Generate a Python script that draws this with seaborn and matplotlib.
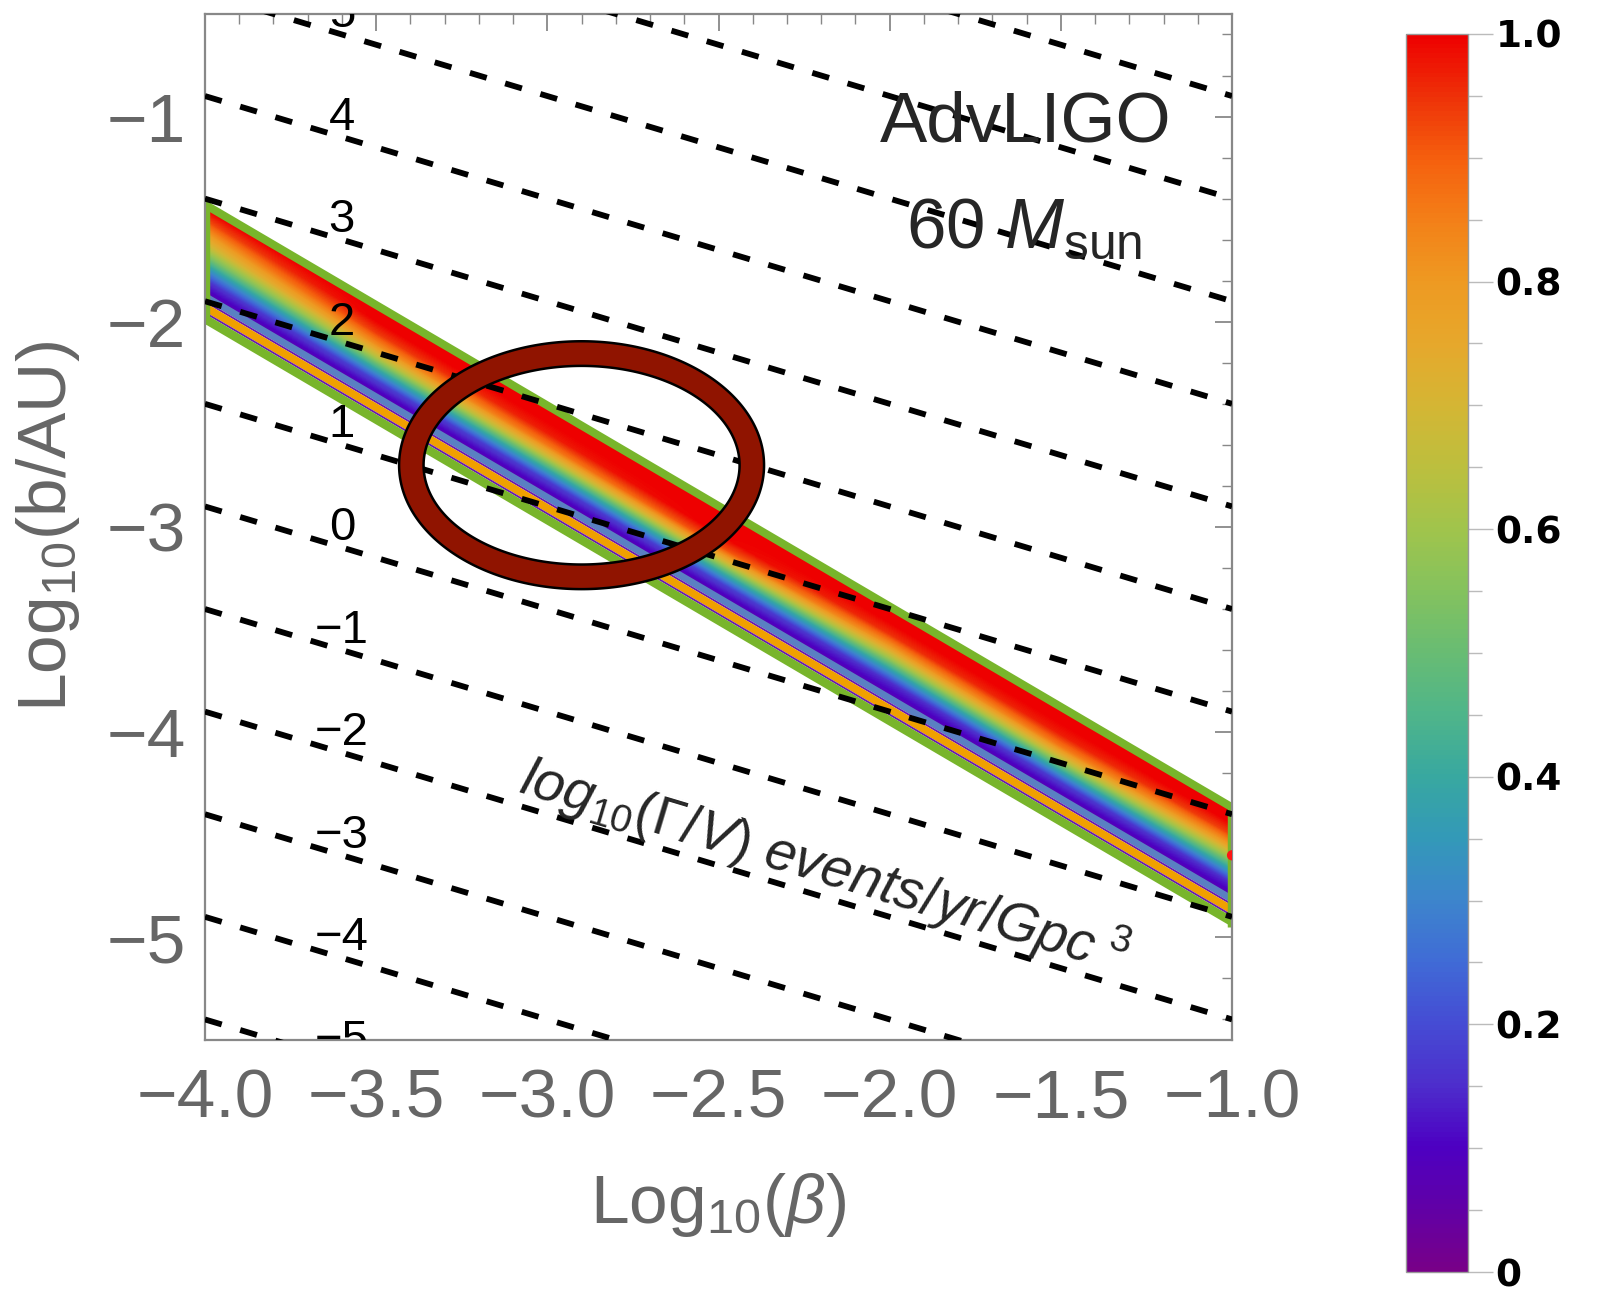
import numpy as np
import pandas as pd
import matplotlib
matplotlib.use("Agg")
import matplotlib.pyplot as plt
import seaborn as sns
import matplotlib.transforms as mtransforms
from matplotlib.colors import LinearSegmentedColormap, Normalize
from matplotlib.cm import ScalarMappable
from matplotlib.path import Path
from matplotlib.patches import PathPatch
from matplotlib.ticker import MultipleLocator

# ------------------------------------------------------------------ data
x_limits = [-4.0, -1.0]
y_limits = [-5.5, -0.5]

# iso-rate lines log10(Gamma/V): y value at left (x=-4) and right (x=-1) edge
rate_levels = [7, 6, 5, 4, 3, 2, 1, 0, -1, -2, -3, -4, -5]
rate_y_left = [0.6, 0.1, -0.4, -0.9, -1.4, -1.9, -2.4, -2.9, -3.4, -3.9, -4.4, -4.9, -5.4]
rate_y_right = [-0.9, -1.4, -1.9, -2.4, -2.9, -3.4, -3.9, -4.4, -4.9, -5.4, -5.9, -6.4, -6.9]
label_x = -3.6

# allowed band (upper edge at its two ends, constant vertical width)
band_x = [-4.0, -1.0]
band_top = [-1.405, -4.343]
band_width = 0.605

# density values inside the band: columns along x, rows across the band (fraction s)
grad_x = [-4.0, -3.5, -3.0, -2.5, -2.0, -1.5, -1.0]
grad_s = [0.075, 0.171, 0.268, 0.364, 0.461, 0.557, 0.654, 0.75]
grad_values = [
    [1.00, 1.00, 1.00, 1.00, 1.00, 1.00, 1.00],
    [0.92, 1.00, 1.00, 1.00, 1.00, 1.00, 1.00],
    [0.80, 0.94, 0.97, 1.00, 0.95, 0.97, 0.93],
    [0.68, 0.82, 0.86, 0.92, 0.80, 0.86, 0.78],
    [0.52, 0.64, 0.66, 0.70, 0.60, 0.66, 0.58],
    [0.33, 0.40, 0.40, 0.42, 0.36, 0.40, 0.36],
    [0.16, 0.18, 0.17, 0.18, 0.15, 0.17, 0.15],
    [0.08, 0.08, 0.08, 0.08, 0.08, 0.08, 0.08],
]

# boundary stripes of the band (fraction across band) and their colours
stripe_s0 = [0.0, 0.745, 0.81, 0.828, 0.90, 0.918]
stripe_s1 = [0.075, 0.81, 0.828, 0.90, 0.918, 1.0]
stripe_colors = ["#78B52B", "#5A80C2", "#6A1CB0", "#F0A000", "#6A1CB0", "#78B52B"]

# marked point and highlighted region
point_x = [-1.0]
point_y = [-4.6]
ring_center = (-2.90, -2.699)
ring_outer = (0.533, 0.604)
ring_inner = (0.4615, 0.484)

# colour scale
cmap_pos = [0.0, 0.05, 0.1, 0.15, 0.2, 0.25, 0.3, 0.35, 0.4, 0.45, 0.5,
            0.55, 0.6, 0.65, 0.7, 0.75, 0.8, 0.85, 0.9, 0.95, 1.0]
cmap_hex = ["#780088", "#6100A6", "#4D00C2", "#4D2ECC", "#454CD4", "#406BD6",
            "#3D85CC", "#3399B8", "#38A8A0", "#4FB58A", "#68BC73", "#84C25E",
            "#A0C44C", "#BCBF3E", "#D4B634", "#E6A82C", "#EE9A22", "#F38018",
            "#F5600E", "#EE3208", "#EE0000"]
cbar_ticks = [0.0, 0.2, 0.4, 0.6, 0.8, 1.0]
cbar_ticklabels = ["0", "0.2", "0.4", "0.6", "0.8", "1.0"]

# ------------------------------------------------------------------ style
sns.set_style("white")
plt.rcParams["font.family"] = ["Liberation Sans", "DejaVu Sans"]
plt.rcParams["mathtext.fontset"] = "custom"
plt.rcParams["mathtext.rm"] = "Liberation Sans"
plt.rcParams["mathtext.it"] = "Liberation Sans:italic"
plt.rcParams["mathtext.bf"] = "Liberation Sans:bold"
plt.rcParams["mathtext.sf"] = "Liberation Sans"
plt.rcParams["axes.unicode_minus"] = True

GRAY_TXT = "#666666"
GRAY_AX = "#888888"

cmap = LinearSegmentedColormap.from_list("mma_rainbow", list(zip(cmap_pos, cmap_hex)))
norm = Normalize(0, 1)

fig = plt.figure(figsize=(16.19, 12.93), dpi=100)
ax = fig.add_axes([0.1266, 0.1957, 0.6344, 0.7935])

# ---- density band (image mapped onto the slanted band by an affine map)
slope = (band_top[1] - band_top[0]) / (band_x[1] - band_x[0])
aff = mtransforms.Affine2D(np.array([
    [1.0, 0.0, 0.0],
    [slope, -band_width, band_top[0] - slope * band_x[0]],
    [0.0, 0.0, 1.0]]))
dx = grad_x[1] - grad_x[0]
ds = grad_s[1] - grad_s[0]
ax.imshow(np.array(grad_values), cmap=cmap, norm=norm, origin="lower",
          extent=(grad_x[0] - dx / 2, grad_x[-1] + dx / 2,
                  grad_s[0] - ds / 2, grad_s[-1] + ds / 2),
          interpolation="bilinear", interpolation_stage="data",
          aspect="auto", transform=aff + ax.transData, zorder=1)

bx = np.array(band_x)
bt = np.array(band_top)
for s0, s1, c in zip(stripe_s0, stripe_s1, stripe_colors):
    ax.fill_between(bx, bt - band_width * s0, bt - band_width * s1,
                    color=c, lw=0, zorder=2)
for xe, ye in zip(band_x, band_top):
    ax.plot([xe, xe], [ye, ye - band_width], color=stripe_colors[0],
            lw=6.8, solid_capstyle="butt", zorder=2)

# ---- dashed iso-rate lines
lines_df = pd.DataFrame({
    "x": np.repeat([x_limits], len(rate_levels), axis=0).ravel(),
    "y": np.column_stack([rate_y_left, rate_y_right]).ravel(),
    "level": np.repeat(rate_levels, 2),
})
sns.lineplot(data=lines_df, x="x", y="y", units="level", estimator=None,
             color="black", lw=4.2, linestyle=(0, (3.0, 3.3)),
             legend=False, ax=ax, zorder=3)

for lev, yl, yr in zip(rate_levels, rate_y_left, rate_y_right):
    yy = yl + (yr - yl) * (label_x - x_limits[0]) / (x_limits[1] - x_limits[0])
    ax.text(label_x, yy + 0.095, str(lev).replace("-", "\u2212"), fontsize=34,
            ha="center", va="center", color="black", clip_on=True, zorder=4)

# ---- highlighted ring
th = np.linspace(0, 2 * np.pi, 361)
outer = np.column_stack([ring_center[0] + ring_outer[0] * np.cos(th),
                         ring_center[1] + ring_outer[1] * np.sin(th)])
inner = np.column_stack([ring_center[0] + ring_inner[0] * np.cos(th[::-1]),
                         ring_center[1] + ring_inner[1] * np.sin(th[::-1])])
codes = np.full(len(th), Path.LINETO)
codes[0] = Path.MOVETO
codes[-1] = Path.CLOSEPOLY
ring = Path(np.vstack([outer, inner]), np.concatenate([codes, codes]))
ax.add_patch(PathPatch(ring, facecolor="#901400", edgecolor="black", lw=1.8, zorder=5))

# ---- marked point
ax.scatter(point_x, point_y, s=55, color="#FF1414", edgecolor="none", zorder=5)

# ---- annotations
ax.text(-1.604, -1.121, "AdvLIGO", fontsize=51, ha="center", va="baseline", zorder=6)
ax.text(-1.607, -1.640, r"60 $M_{\mathrm{sun}}$", fontsize=51, ha="center",
        va="baseline", zorder=6)
ax.text(-2.19, -4.655, r"$log_{10}(\mathit{\Gamma}/V)\ events/yr/Gpc^{\ 3}$",
        fontsize=40, rotation=-16.7, rotation_mode="anchor",
        ha="center", va="center", zorder=6)

# ---- axes styling
ax.set_xlim(*x_limits)
ax.set_ylim(*y_limits)
ax.xaxis.set_major_locator(MultipleLocator(0.5))
ax.xaxis.set_minor_locator(MultipleLocator(0.1))
ax.yaxis.set_major_locator(MultipleLocator(1.0))
ax.yaxis.set_minor_locator(MultipleLocator(0.2))
ax.tick_params(which="both", direction="in", top=True, right=True,
               color=GRAY_AX, labelcolor=GRAY_TXT)
ax.tick_params(which="major", length=12, width=1.3, labelsize=50)
ax.tick_params(axis="x", which="major", pad=20)
ax.tick_params(axis="y", which="major", pad=14)
ax.tick_params(which="minor", length=7, width=1.0)
for sp in ax.spines.values():
    sp.set_color(GRAY_AX)
    sp.set_linewidth(1.6)
ax.set_xlabel(r"Log$_{10}$($\beta$)", fontsize=50, color=GRAY_TXT, va="top")
ax.set_ylabel(r"Log$_{10}$(b/AU)", fontsize=50, color=GRAY_TXT)
ax.xaxis.set_label_coords(0.5, -0.128)
ax.yaxis.set_label_coords(-0.12, 0.5)

# ---- colour bar
cax = fig.add_axes([0.8684, 0.01624, 0.0383, 0.9575])
cbar = fig.colorbar(ScalarMappable(norm=norm, cmap=cmap), cax=cax)
cbar.set_ticks(cbar_ticks, labels=cbar_ticklabels, fontweight="bold",
               fontfamily="DejaVu Sans")
cbar.ax.yaxis.set_minor_locator(MultipleLocator(0.05))
cbar.ax.tick_params(which="both", direction="out", color="#BBBBBB", width=1.0)
cbar.ax.tick_params(which="major", length=18, pad=2, labelsize=27, labelcolor="black")
cbar.ax.tick_params(which="minor", length=10)
cbar.outline.set_edgecolor("#999999")
cbar.outline.set_linewidth(1.0)

fig.savefig("out.png", dpi=100)
